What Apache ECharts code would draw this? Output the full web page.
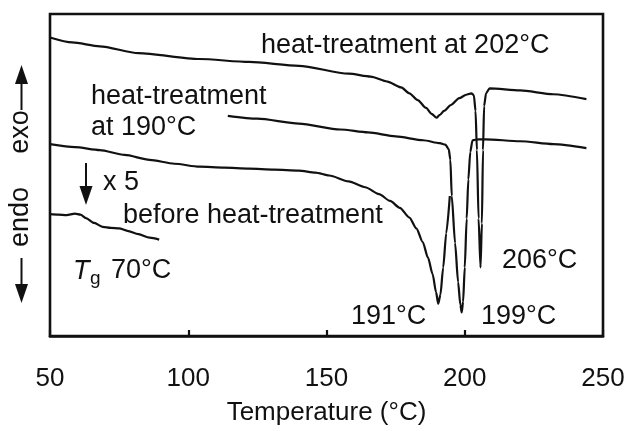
<!DOCTYPE html>
<html>
<head>
<meta charset="utf-8">
<script src="https://cdn.jsdelivr.net/npm/echarts@6/dist/echarts.min.js"></script>
<style>
  html, body { margin: 0; padding: 0; background: #fff; }
  #chart { width: 628px; height: 431px; }
</style>
</head>
<body>
<div id="chart"></div>
<script>
// DSC curves, [temperature °C, heat flow (a.u., exo up)]
const curve202 = [
  [50, 305], [58, 300], [68, 296], [82, 289], [104, 283], [122, 280], [140, 276],
  [158, 268], [166, 265], [172, 260], [177, 254], [180, 248], [183, 241], [186, 233],
  [188, 227], [189.8, 223], [191, 226], [192.5, 230], [195, 236], [198, 243],
  [200.5, 246.5], [202.4, 248], [203.3, 246], [203.9, 230], [204.4, 190], [205, 120],
  [205.7, 70], [206.2, 115], [206.6, 190], [207, 235], [207.7, 248], [209, 253],
  [220, 251], [232, 247], [244, 242]
];
const curve190 = [
  [114.3, 225], [125, 222], [140, 217], [155, 211], [165, 208], [175, 204],
  [185, 200], [191, 197], [193, 195.5], [194.2, 191], [194.8, 180], [195.3, 143],
  [196.5, 95], [197.6, 55], [198.4, 32], [198.9, 24], [199.4, 35], [200, 70],
  [200.7, 120], [201.3, 160], [202, 188], [202.8, 200], [205, 201], [207.5, 201],
  [220, 199], [232, 196], [244, 192]
];
const curveBefore = [
  [50, 196], [59, 193], [68, 190], [77, 185], [86, 180], [95, 176], [104, 173],
  [113, 172], [122, 171], [131, 170], [140, 169], [146, 167], [151, 164], [158, 158],
  [164, 152], [169, 145], [173, 138], [176.5, 131], [180, 121], [182.5, 110],
  [184.8, 96], [186.7, 80], [188.4, 63], [189.6, 45], [190.4, 33], [191.2, 42],
  [192.2, 70], [193.3, 105], [194.6, 143]
];
// glass transition region, magnified x 5
const curveTg = [
  [50, 124.5], [53, 124], [56, 123.5], [59, 125], [61, 124], [63, 120.5],
  [66, 115.5], [69, 111.5], [72, 110.5], [75, 110], [78, 107.5], [82, 104],
  [86, 100.5], [89.5, 98.5]
];
const xTicks = { min: 50, max: 250, step: 50 };
const xTitle = 'Temperature (°C)';

const FONT = '"Liberation Sans", Arial, Helvetica, sans-serif';
const INK = '#111';

const chart = echarts.init(document.getElementById('chart'), null, { renderer: 'canvas' });

const lineSeries = (data) => ({
  type: 'line',
  data: data,
  showSymbol: false,
  smooth: 0.25,
  smoothMonotone: 'x',
  lineStyle: { color: INK, width: 2.2 },
  silent: true,
  animation: false
});

const txt = (text, x, y, extra) => ({
  type: 'text',
  x: x, y: y,
  silent: true,
  style: Object.assign({
    text: text,
    fill: INK,
    font: '27px ' + FONT,
    textAlign: 'left',
    verticalAlign: 'middle'
  }, extra || {})
});

const arrow = (x, y0, y1, tip, dir) => [
  { type: 'line', silent: true, shape: { x1: x, y1: y0, x2: x, y2: y1 }, style: { stroke: INK, lineWidth: 2 } },
  { type: 'polygon', silent: true,
    shape: { points: [[x, tip], [x - 6.5, tip - dir * 19], [x + 6.5, tip - dir * 19]] },
    style: { fill: INK } }
];

chart.setOption({
  backgroundColor: '#fff',
  animation: false,
  grid: {
    left: 50, right: 25, top: 14, bottom: 88,
    show: true, borderColor: INK, borderWidth: 2.6, backgroundColor: 'transparent'
  },
  xAxis: {
    type: 'value',
    min: xTicks.min, max: xTicks.max, interval: xTicks.step,
    name: xTitle,
    nameLocation: 'middle',
    nameGap: 64,
    nameTextStyle: { fontSize: 26, fontFamily: FONT, color: INK },
    axisLine: { show: true, onZero: false, lineStyle: { color: INK, width: 2.6 } },
    axisTick: { show: true, inside: true, length: 6, lineStyle: { color: INK, width: 2.2 } },
    axisLabel: { fontSize: 26, fontFamily: FONT, color: INK, margin: 30 },
    splitLine: { show: false }
  },
  yAxis: {
    type: 'value', min: 0, max: 329,
    show: false
  },
  series: [
    lineSeries(curve202),
    lineSeries(curve190),
    lineSeries(curveBefore),
    lineSeries(curveTg)
  ],
  graphic: [
    txt('heat-treatment at 202°C', 261, 46),
    txt('heat-treatment', 91, 97),
    txt('at 190°C', 91, 128),
    txt('x 5', 103, 183),
    txt('before heat-treatment', 123, 216),
    txt('T', 73, 271, { font: 'italic 27px ' + FONT }),
    txt('g', 90, 279, { font: '19px ' + FONT }),
    txt('70°C', 111, 271),
    txt('191°C', 351, 317),
    txt('199°C', 481, 317),
    txt('206°C', 502, 261),
    {
      type: 'text', x: 21, y: 132, rotation: Math.PI / 2, silent: true,
      style: { text: 'exo', fill: INK, font: '27px ' + FONT, textAlign: 'center', verticalAlign: 'middle' }
    },
    {
      type: 'text', x: 21, y: 217, rotation: Math.PI / 2, silent: true,
      style: { text: 'endo', fill: INK, font: '27px ' + FONT, textAlign: 'center', verticalAlign: 'middle' }
    },
    ...arrow(21.5, 110, 82, 65, -1),
    ...arrow(21.5, 258, 286, 303, 1),
    ...arrow(86, 163, 189, 205, 1)
  ]
});
</script>
</body>
</html>
